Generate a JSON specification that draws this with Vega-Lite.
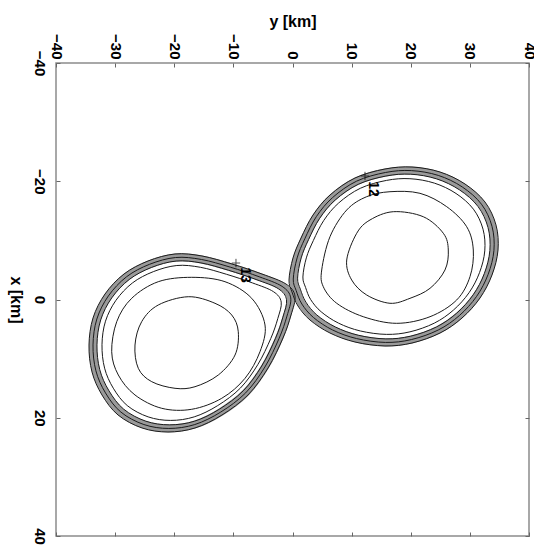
{
  "$schema": "https://vega.github.io/schema/vega-lite/v6.json",
  "width": 473,
  "height": 473,
  "autosize": "none",
  "padding": {"left": 56, "top": 63, "right": 5, "bottom": 12},
  "background": "white",
  "config": {
    "view": {"stroke": "#8c8c8c", "strokeWidth": 1.5},
    "font": "Liberation Sans"
  },
  "datasets": {
    "contours": [
      {"c":"u1","level":1,"i":1,"Y":-0.08,"X":-1.27},{"c":"u1","level":1,"i":2,"Y":-0.59,"X":-3.30},{"c":"u1","level":1,"i":3,"Y":0.08,"X":-7.02},{"c":"u1","level":1,"i":4,"Y":1.44,"X":-10.40},{"c":"u1","level":1,"i":5,"Y":3.47,"X":-14.29},{"c":"u1","level":1,"i":6,"Y":6.34,"X":-17.67},{"c":"u1","level":1,"i":7,"Y":10.57,"X":-20.55},{"c":"u1","level":1,"i":8,"Y":15.64,"X":-22.07},{"c":"u1","level":1,"i":9,"Y":20.21,"X":-22.41},{"c":"u1","level":1,"i":10,"Y":24.95,"X":-21.56},{"c":"u1","level":1,"i":11,"Y":29.18,"X":-19.53},{"c":"u1","level":1,"i":12,"Y":32.56,"X":-16.49},{"c":"u1","level":1,"i":13,"Y":34.42,"X":-12.60},{"c":"u1","level":1,"i":14,"Y":34.76,"X":-8.37},{"c":"u1","level":1,"i":15,"Y":33.74,"X":-4.14},{"c":"u1","level":1,"i":16,"Y":31.71,"X":-0.25},{"c":"u1","level":1,"i":17,"Y":28.67,"X":3.13},{"c":"u1","level":1,"i":18,"Y":24.95,"X":5.67},{"c":"u1","level":1,"i":19,"Y":20.21,"X":7.36},{"c":"u1","level":1,"i":20,"Y":15.64,"X":7.86},{"c":"u1","level":1,"i":21,"Y":10.57,"X":7.19},{"c":"u1","level":1,"i":22,"Y":6.34,"X":5.67},{"c":"u1","level":1,"i":23,"Y":2.96,"X":3.47},{"c":"u1","level":1,"i":24,"Y":0.93,"X":1.10},
      {"c":"u2","level":2,"i":1,"Y":0.62,"X":-1.51},{"c":"u2","level":2,"i":2,"Y":0.13,"X":-3.46},{"c":"u2","level":2,"i":3,"Y":0.78,"X":-7.03},{"c":"u2","level":2,"i":4,"Y":2.08,"X":-10.27},{"c":"u2","level":2,"i":5,"Y":4.03,"X":-14.01},{"c":"u2","level":2,"i":6,"Y":6.79,"X":-17.25},{"c":"u2","level":2,"i":7,"Y":10.85,"X":-20.02},{"c":"u2","level":2,"i":8,"Y":15.71,"X":-21.48},{"c":"u2","level":2,"i":9,"Y":20.10,"X":-21.80},{"c":"u2","level":2,"i":10,"Y":24.65,"X":-20.99},{"c":"u2","level":2,"i":11,"Y":28.71,"X":-19.04},{"c":"u2","level":2,"i":12,"Y":31.96,"X":-16.12},{"c":"u2","level":2,"i":13,"Y":33.74,"X":-12.38},{"c":"u2","level":2,"i":14,"Y":34.07,"X":-8.32},{"c":"u2","level":2,"i":15,"Y":33.09,"X":-4.26},{"c":"u2","level":2,"i":16,"Y":31.14,"X":-0.53},{"c":"u2","level":2,"i":17,"Y":28.22,"X":2.72},{"c":"u2","level":2,"i":18,"Y":24.65,"X":5.16},{"c":"u2","level":2,"i":19,"Y":20.10,"X":6.78},{"c":"u2","level":2,"i":20,"Y":15.71,"X":7.26},{"c":"u2","level":2,"i":21,"Y":10.85,"X":6.61},{"c":"u2","level":2,"i":22,"Y":6.79,"X":5.16},{"c":"u2","level":2,"i":23,"Y":3.54,"X":3.04},{"c":"u2","level":2,"i":24,"Y":1.59,"X":0.77},
      {"c":"u3","level":3,"i":1,"Y":1.33,"X":-1.74},{"c":"u3","level":3,"i":2,"Y":0.86,"X":-3.61},{"c":"u3","level":3,"i":3,"Y":1.47,"X":-7.03},{"c":"u3","level":3,"i":4,"Y":2.72,"X":-10.14},{"c":"u3","level":3,"i":5,"Y":4.59,"X":-13.72},{"c":"u3","level":3,"i":6,"Y":7.23,"X":-16.83},{"c":"u3","level":3,"i":7,"Y":11.12,"X":-19.48},{"c":"u3","level":3,"i":8,"Y":15.79,"X":-20.88},{"c":"u3","level":3,"i":9,"Y":19.99,"X":-21.19},{"c":"u3","level":3,"i":10,"Y":24.35,"X":-20.41},{"c":"u3","level":3,"i":11,"Y":28.25,"X":-18.54},{"c":"u3","level":3,"i":12,"Y":31.36,"X":-15.75},{"c":"u3","level":3,"i":13,"Y":33.07,"X":-12.17},{"c":"u3","level":3,"i":14,"Y":33.38,"X":-8.28},{"c":"u3","level":3,"i":15,"Y":32.44,"X":-4.38},{"c":"u3","level":3,"i":16,"Y":30.57,"X":-0.81},{"c":"u3","level":3,"i":17,"Y":27.78,"X":2.30},{"c":"u3","level":3,"i":18,"Y":24.35,"X":4.64},{"c":"u3","level":3,"i":19,"Y":19.99,"X":6.20},{"c":"u3","level":3,"i":20,"Y":15.79,"X":6.66},{"c":"u3","level":3,"i":21,"Y":11.12,"X":6.04},{"c":"u3","level":3,"i":22,"Y":7.23,"X":4.64},{"c":"u3","level":3,"i":23,"Y":4.12,"X":2.62},{"c":"u3","level":3,"i":24,"Y":2.26,"X":0.44},
      {"c":"u4","level":4,"i":1,"Y":2.21,"X":-2.04},{"c":"u4","level":4,"i":2,"Y":1.76,"X":-3.81},{"c":"u4","level":4,"i":3,"Y":2.34,"X":-7.04},{"c":"u4","level":4,"i":4,"Y":3.53,"X":-9.98},{"c":"u4","level":4,"i":5,"Y":5.29,"X":-13.37},{"c":"u4","level":4,"i":6,"Y":7.79,"X":-16.31},{"c":"u4","level":4,"i":7,"Y":11.47,"X":-18.81},{"c":"u4","level":4,"i":8,"Y":15.88,"X":-20.14},{"c":"u4","level":4,"i":9,"Y":19.86,"X":-20.43},{"c":"u4","level":4,"i":10,"Y":23.98,"X":-19.69},{"c":"u4","level":4,"i":11,"Y":27.66,"X":-17.93},{"c":"u4","level":4,"i":12,"Y":30.60,"X":-15.28},{"c":"u4","level":4,"i":13,"Y":32.22,"X":-11.90},{"c":"u4","level":4,"i":14,"Y":32.52,"X":-8.22},{"c":"u4","level":4,"i":15,"Y":31.63,"X":-4.54},{"c":"u4","level":4,"i":16,"Y":29.86,"X":-1.15},{"c":"u4","level":4,"i":17,"Y":27.22,"X":1.79},{"c":"u4","level":4,"i":18,"Y":23.98,"X":4.00},{"c":"u4","level":4,"i":19,"Y":19.86,"X":5.47},{"c":"u4","level":4,"i":20,"Y":15.88,"X":5.90},{"c":"u4","level":4,"i":21,"Y":11.47,"X":5.32},{"c":"u4","level":4,"i":22,"Y":7.79,"X":4.00},{"c":"u4","level":4,"i":23,"Y":4.85,"X":2.08},{"c":"u4","level":4,"i":24,"Y":3.08,"X":0.02},
      {"c":"u5","level":5,"i":1,"Y":4.94,"X":-4.99},{"c":"u5","level":5,"i":2,"Y":6.34,"X":-10.62},{"c":"u5","level":5,"i":3,"Y":9.17,"X":-15.14},{"c":"u5","level":5,"i":4,"Y":12.55,"X":-17.39},{"c":"u5","level":5,"i":5,"Y":16.49,"X":-18.23},{"c":"u5","level":5,"i":6,"Y":21.56,"X":-17.96},{"c":"u5","level":5,"i":7,"Y":26.08,"X":-15.70},{"c":"u5","level":5,"i":8,"Y":29.46,"X":-12.31},{"c":"u5","level":5,"i":9,"Y":30.58,"X":-8.37},{"c":"u5","level":5,"i":10,"Y":30.02,"X":-3.86},{"c":"u5","level":5,"i":11,"Y":27.77,"X":0.08},{"c":"u5","level":5,"i":12,"Y":23.26,"X":2.91},{"c":"u5","level":5,"i":13,"Y":17.62,"X":4.03},{"c":"u5","level":5,"i":14,"Y":11.97,"X":2.91},{"c":"u5","level":5,"i":15,"Y":7.48,"X":0.64},{"c":"u5","level":5,"i":16,"Y":5.21,"X":-2.16},
      {"c":"u6","level":6,"i":1,"Y":9.17,"X":-6.68},{"c":"u6","level":6,"i":2,"Y":10.86,"X":-11.20},{"c":"u6","level":6,"i":3,"Y":13.11,"X":-13.45},{"c":"u6","level":6,"i":4,"Y":17.05,"X":-14.85},{"c":"u6","level":6,"i":5,"Y":22.12,"X":-14.00},{"c":"u6","level":6,"i":6,"Y":25.51,"X":-11.20},{"c":"u6","level":6,"i":7,"Y":26.35,"X":-8.37},{"c":"u6","level":6,"i":8,"Y":25.79,"X":-4.99},{"c":"u6","level":6,"i":9,"Y":23.26,"X":-1.89},{"c":"u6","level":6,"i":10,"Y":19.87,"X":-0.20},{"c":"u6","level":6,"i":11,"Y":16.49,"X":0.64},{"c":"u6","level":6,"i":12,"Y":12.55,"X":-0.76},{"c":"u6","level":6,"i":13,"Y":10.01,"X":-3.30},
      {"c":"l1","level":1,"i":1,"Y":0.42,"X":-0.59},{"c":"l1","level":1,"i":2,"Y":-1.10,"X":-2.62},{"c":"l1","level":1,"i":3,"Y":-5.16,"X":-4.31},{"c":"l1","level":1,"i":4,"Y":-10.23,"X":-6.00},{"c":"l1","level":1,"i":5,"Y":-15.31,"X":-7.36},{"c":"l1","level":1,"i":6,"Y":-19.87,"X":-7.70},{"c":"l1","level":1,"i":7,"Y":-24.44,"X":-6.51},{"c":"l1","level":1,"i":8,"Y":-28.50,"X":-4.31},{"c":"l1","level":1,"i":9,"Y":-31.71,"X":-0.93},{"c":"l1","level":1,"i":10,"Y":-33.74,"X":3.13},{"c":"l1","level":1,"i":11,"Y":-34.42,"X":7.70},{"c":"l1","level":1,"i":12,"Y":-33.91,"X":12.26},{"c":"l1","level":1,"i":13,"Y":-32.22,"X":16.15},{"c":"l1","level":1,"i":14,"Y":-29.51,"X":19.53},{"c":"l1","level":1,"i":15,"Y":-25.45,"X":21.73},{"c":"l1","level":1,"i":16,"Y":-21.06,"X":22.41},{"c":"l1","level":1,"i":17,"Y":-16.49,"X":21.73},{"c":"l1","level":1,"i":18,"Y":-11.92,"X":19.53},{"c":"l1","level":1,"i":19,"Y":-7.53,"X":16.15},{"c":"l1","level":1,"i":20,"Y":-4.14,"X":11.59},{"c":"l1","level":1,"i":21,"Y":-1.61,"X":6.51},{"c":"l1","level":1,"i":22,"Y":-0.25,"X":2.62},
      {"c":"l2","level":2,"i":1,"Y":-0.30,"X":-0.27},{"c":"l2","level":2,"i":2,"Y":-1.76,"X":-2.22},{"c":"l2","level":2,"i":3,"Y":-5.65,"X":-3.85},{"c":"l2","level":2,"i":4,"Y":-10.52,"X":-5.47},{"c":"l2","level":2,"i":5,"Y":-15.40,"X":-6.77},{"c":"l2","level":2,"i":6,"Y":-19.78,"X":-7.10},{"c":"l2","level":2,"i":7,"Y":-24.16,"X":-5.96},{"c":"l2","level":2,"i":8,"Y":-28.06,"X":-3.85},{"c":"l2","level":2,"i":9,"Y":-31.14,"X":-0.60},{"c":"l2","level":2,"i":10,"Y":-33.09,"X":3.30},{"c":"l2","level":2,"i":11,"Y":-33.74,"X":7.68},{"c":"l2","level":2,"i":12,"Y":-33.25,"X":12.06},{"c":"l2","level":2,"i":13,"Y":-31.63,"X":15.80},{"c":"l2","level":2,"i":14,"Y":-29.03,"X":19.04},{"c":"l2","level":2,"i":15,"Y":-25.13,"X":21.15},{"c":"l2","level":2,"i":16,"Y":-20.92,"X":21.81},{"c":"l2","level":2,"i":17,"Y":-16.53,"X":21.15},{"c":"l2","level":2,"i":18,"Y":-12.14,"X":19.04},{"c":"l2","level":2,"i":19,"Y":-7.93,"X":15.80},{"c":"l2","level":2,"i":20,"Y":-4.67,"X":11.42},{"c":"l2","level":2,"i":21,"Y":-2.25,"X":6.54},{"c":"l2","level":2,"i":22,"Y":-0.94,"X":2.81},
      {"c":"l3","level":3,"i":1,"Y":-1.01,"X":0.04},{"c":"l3","level":3,"i":2,"Y":-2.41,"X":-1.83},{"c":"l3","level":3,"i":3,"Y":-6.15,"X":-3.38},{"c":"l3","level":3,"i":4,"Y":-10.81,"X":-4.94},{"c":"l3","level":3,"i":5,"Y":-15.49,"X":-6.19},{"c":"l3","level":3,"i":6,"Y":-19.68,"X":-6.50},{"c":"l3","level":3,"i":7,"Y":-23.88,"X":-5.41},{"c":"l3","level":3,"i":8,"Y":-27.62,"X":-3.38},{"c":"l3","level":3,"i":9,"Y":-30.57,"X":-0.27},{"c":"l3","level":3,"i":10,"Y":-32.44,"X":3.46},{"c":"l3","level":3,"i":11,"Y":-33.07,"X":7.67},{"c":"l3","level":3,"i":12,"Y":-32.60,"X":11.86},{"c":"l3","level":3,"i":13,"Y":-31.04,"X":15.44},{"c":"l3","level":3,"i":14,"Y":-28.55,"X":18.55},{"c":"l3","level":3,"i":15,"Y":-24.81,"X":20.58},{"c":"l3","level":3,"i":16,"Y":-20.78,"X":21.20},{"c":"l3","level":3,"i":17,"Y":-16.57,"X":20.58},{"c":"l3","level":3,"i":18,"Y":-12.37,"X":18.55},{"c":"l3","level":3,"i":19,"Y":-8.33,"X":15.44},{"c":"l3","level":3,"i":20,"Y":-5.21,"X":11.25},{"c":"l3","level":3,"i":21,"Y":-2.88,"X":6.57},{"c":"l3","level":3,"i":22,"Y":-1.63,"X":2.99},
      {"c":"l4","level":4,"i":1,"Y":-1.91,"X":0.44},{"c":"l4","level":4,"i":2,"Y":-3.23,"X":-1.33},{"c":"l4","level":4,"i":3,"Y":-6.76,"X":-2.80},{"c":"l4","level":4,"i":4,"Y":-11.18,"X":-4.27},{"c":"l4","level":4,"i":5,"Y":-15.59,"X":-5.45},{"c":"l4","level":4,"i":6,"Y":-19.56,"X":-5.75},{"c":"l4","level":4,"i":7,"Y":-23.54,"X":-4.71},{"c":"l4","level":4,"i":8,"Y":-27.07,"X":-2.80},{"c":"l4","level":4,"i":9,"Y":-29.86,"X":0.14},{"c":"l4","level":4,"i":10,"Y":-31.63,"X":3.67},{"c":"l4","level":4,"i":11,"Y":-32.22,"X":7.65},{"c":"l4","level":4,"i":12,"Y":-31.78,"X":11.62},{"c":"l4","level":4,"i":13,"Y":-30.31,"X":15.00},{"c":"l4","level":4,"i":14,"Y":-27.95,"X":17.94},{"c":"l4","level":4,"i":15,"Y":-24.42,"X":19.85},{"c":"l4","level":4,"i":16,"Y":-20.60,"X":20.45},{"c":"l4","level":4,"i":17,"Y":-16.62,"X":19.85},{"c":"l4","level":4,"i":18,"Y":-12.65,"X":17.94},{"c":"l4","level":4,"i":19,"Y":-8.83,"X":15.00},{"c":"l4","level":4,"i":20,"Y":-5.88,"X":11.03},{"c":"l4","level":4,"i":21,"Y":-3.68,"X":6.61},{"c":"l4","level":4,"i":22,"Y":-2.49,"X":3.23},
      {"c":"l5","level":5,"i":1,"Y":-30.58,"X":8.83},{"c":"l5","level":5,"i":2,"Y":-29.73,"X":3.75},{"c":"l5","level":5,"i":3,"Y":-27.20,"X":-0.20},{"c":"l5","level":5,"i":4,"Y":-22.70,"X":-3.01},{"c":"l5","level":5,"i":5,"Y":-17.05,"X":-3.75},{"c":"l5","level":5,"i":6,"Y":-11.42,"X":-3.01},{"c":"l5","level":5,"i":7,"Y":-6.90,"X":-0.20},{"c":"l5","level":5,"i":8,"Y":-4.65,"X":4.31},{"c":"l5","level":5,"i":9,"Y":-5.50,"X":8.83},{"c":"l5","level":5,"i":10,"Y":-8.03,"X":13.33},{"c":"l5","level":5,"i":11,"Y":-11.97,"X":16.71},{"c":"l5","level":5,"i":12,"Y":-17.05,"X":18.57},{"c":"l5","level":5,"i":13,"Y":-22.12,"X":18.40},{"c":"l5","level":5,"i":14,"Y":-26.64,"X":16.15},{"c":"l5","level":5,"i":15,"Y":-29.46,"X":12.77},
      {"c":"l6","level":6,"i":1,"Y":-26.64,"X":7.70},{"c":"l6","level":6,"i":2,"Y":-25.51,"X":3.75},{"c":"l6","level":6,"i":3,"Y":-22.70,"X":0.93},{"c":"l6","level":6,"i":4,"Y":-17.62,"X":-0.47},{"c":"l6","level":6,"i":5,"Y":-13.11,"X":0.64},{"c":"l6","level":6,"i":6,"Y":-10.28,"X":2.62},{"c":"l6","level":6,"i":7,"Y":-9.17,"X":5.45},{"c":"l6","level":6,"i":8,"Y":-9.72,"X":9.39},{"c":"l6","level":6,"i":9,"Y":-12.55,"X":12.77},{"c":"l6","level":6,"i":10,"Y":-16.49,"X":14.75},{"c":"l6","level":6,"i":11,"Y":-19.87,"X":15.02},{"c":"l6","level":6,"i":12,"Y":-23.81,"X":13.90},{"c":"l6","level":6,"i":13,"Y":-26.08,"X":11.64}
    ],
    "marks": [
      {"label":"12","Y":12.26,"X":-20.89,"tY":13.61,"tX":-18.69},
      {"label":"13","Y":-9.56,"X":-6.17,"tY":-8.03,"tX":-4.14}
    ]
  },
  "layer": [
    {
      "data": {"name": "contours"},
      "transform": [{"filter": "datum.level == 2"}],
      "mark": {"type": "line", "interpolate": "cardinal-closed", "stroke": "#9a9a9a", "strokeWidth": 8},
      "encoding": {
        "x": {"field": "Y", "type": "quantitative", "scale": {"domain": [-40, 40], "nice": false, "zero": false}, "axis": null},
        "y": {"field": "X", "type": "quantitative", "scale": {"domain": [-40, 40], "nice": false, "zero": false, "reverse": true}, "axis": null},
        "detail": {"field": "c"},
        "order": {"field": "i", "type": "quantitative"}
      }
    },
    {
      "data": {"name": "contours"},
      "mark": {"type": "line", "interpolate": "cardinal-closed", "stroke": "#1a1a1a", "strokeWidth": 1},
      "encoding": {
        "x": {"field": "Y", "type": "quantitative",
          "axis": {"orient": "top", "title": "y [km]", "values": [-40,-30,-20,-10,0,10,20,30,40], "labelExpr": "replace(datum.label, '-', '\u2212')", "labelAngle": 90, "labelAlign": "right", "labelBaseline": "middle", "labelFlush": false, "labelPadding": 8, "tickSize": -4, "grid": false, "domain": false, "tickColor": "#666", "labelFont": "Liberation Sans", "labelFontSize": 15, "labelFontWeight": "bold", "labelColor": "black", "titleFont": "Liberation Sans", "titleFontSize": 16, "titleFontWeight": "bold", "titleColor": "black", "titlePadding": 4, "labelOverlap": false}},
        "y": {"field": "X", "type": "quantitative",
          "axis": {"orient": "left", "title": "x [km]", "values": [-40,-20,0,20,40], "labelExpr": "replace(datum.label, '-', '\u2212')", "labelAngle": 90, "labelAlign": "center", "labelBaseline": "top", "labelFlush": false, "labelPadding": 14, "tickSize": -4, "grid": false, "domain": false, "tickColor": "#666", "labelFont": "Liberation Sans", "labelFontSize": 15, "labelFontWeight": "bold", "labelColor": "black", "titleFont": "Liberation Sans", "titleFontSize": 16, "titleFontWeight": "bold", "titleColor": "black", "titleAngle": 90, "titleBaseline": "top", "titlePadding": 8, "labelOverlap": false}},
        "detail": {"field": "c"},
        "order": {"field": "i", "type": "quantitative"}
      }
    },
    {
      "data": {"name": "marks"},
      "mark": {"type": "point", "shape": "M-1,0L1,0M0,-1L0,1", "filled": false, "stroke": "black", "strokeWidth": 1, "size": 70},
      "encoding": {
        "x": {"field": "Y", "type": "quantitative",
          "axis": {"orient": "bottom", "title": null, "labels": false, "values": [-40,-30,-20,-10,0,10,20,30,40], "tickSize": -4, "grid": false, "domain": false, "tickColor": "#666"}},
        "y": {"field": "X", "type": "quantitative",
          "axis": {"orient": "right", "title": null, "labels": false, "values": [-40,-20,0,20,40], "tickSize": -4, "grid": false, "domain": false, "tickColor": "#666"}}
      }
    },
    {
      "data": {"name": "marks"},
      "mark": {"type": "text", "angle": 90, "align": "center", "baseline": "middle", "font": "Liberation Sans", "fontSize": 14, "fontWeight": "bold", "color": "black"},
      "encoding": {
        "x": {"field": "tY", "type": "quantitative", "axis": null},
        "y": {"field": "tX", "type": "quantitative", "axis": null},
        "text": {"field": "label"}
      }
    }
  ],
  "resolve": {"axis": {"x": "independent", "y": "independent"}}
}
